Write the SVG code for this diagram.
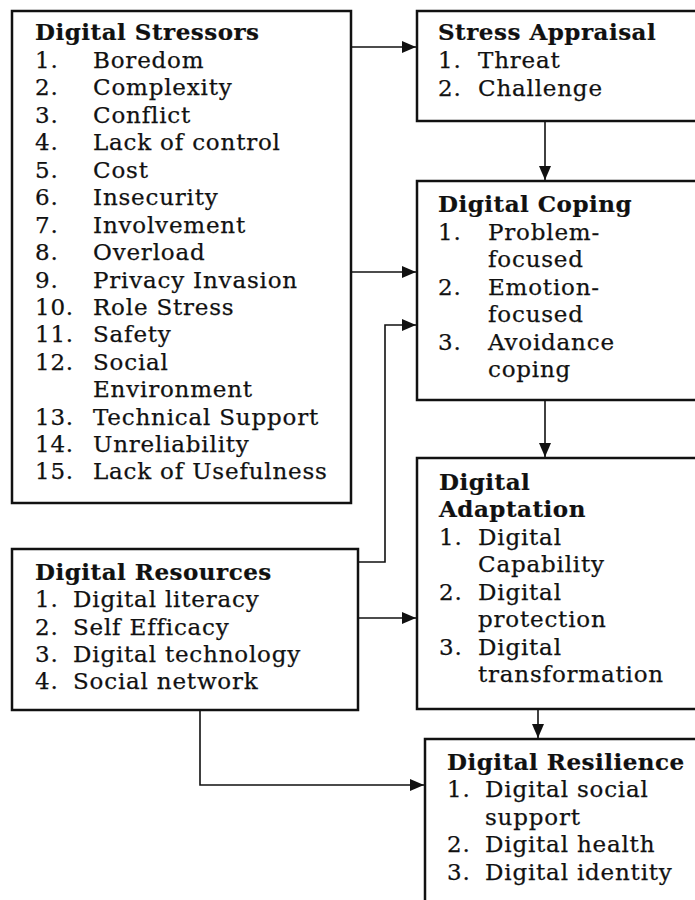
<svg xmlns="http://www.w3.org/2000/svg" width="695" height="900" viewBox="0 0 695 900">
  <style>
    .box { fill: #ffffff; stroke: #111111; stroke-width: 2.5; }
    .link { fill: none; stroke: #111111; stroke-width: 1.6; }
    text { font-family: "DejaVu Serif", "Liberation Serif", serif; font-size: 23px; letter-spacing: 0.8px; fill: #111111; stroke: #111111; stroke-width: 0.25px; }
    .title { font-weight: bold; letter-spacing: 0.5px; stroke-width: 0.2px; }
  </style>
  <defs>
    <marker id="arrow" viewBox="0 0 14 12" refX="14" refY="6" markerWidth="14" markerHeight="12" markerUnits="userSpaceOnUse" orient="auto">
      <path d="M0,0 L14,6 L0,12 Z" fill="#111111"/>
    </marker>
  </defs>

  <rect width="695" height="900" fill="#ffffff"/>

  <!-- connectors -->
  <g id="connectors">
    <path class="link" d="M351,47 H416" marker-end="url(#arrow)"/>
    <path class="link" d="M545,121 V180" marker-end="url(#arrow)"/>
    <path class="link" d="M351,272 H416" marker-end="url(#arrow)"/>
    <path class="link" d="M358,562 H385 V325 H416" marker-end="url(#arrow)"/>
    <path class="link" d="M545,400 V457" marker-end="url(#arrow)"/>
    <path class="link" d="M358,618 H416" marker-end="url(#arrow)"/>
    <path class="link" d="M538,709 V738" marker-end="url(#arrow)"/>
    <path class="link" d="M200,710 V785 H424" marker-end="url(#arrow)"/>
  </g>

  <!-- Digital Stressors -->
  <g id="digital-stressors">
    <rect class="box" x="12" y="11" width="339" height="492"/>
    <text class="title" x="35" y="40">Digital Stressors</text>
    <text x="35" y="68">1.</text><text x="93" y="68">Boredom</text>
    <text x="35" y="95">2.</text><text x="93" y="95">Complexity</text>
    <text x="35" y="123">3.</text><text x="93" y="123">Conflict</text>
    <text x="35" y="150">4.</text><text x="93" y="150">Lack of control</text>
    <text x="35" y="178">5.</text><text x="93" y="178">Cost</text>
    <text x="35" y="205">6.</text><text x="93" y="205">Insecurity</text>
    <text x="35" y="233">7.</text><text x="93" y="233">Involvement</text>
    <text x="35" y="260">8.</text><text x="93" y="260">Overload</text>
    <text x="35" y="288">9.</text><text x="93" y="288">Privacy Invasion</text>
    <text x="35" y="315">10.</text><text x="93" y="315">Role Stress</text>
    <text x="35" y="342">11.</text><text x="93" y="342">Safety</text>
    <text x="35" y="370">12.</text><text x="93" y="370">Social</text>
    <text x="93" y="397">Environment</text>
    <text x="35" y="425">13.</text><text x="93" y="425">Technical Support</text>
    <text x="35" y="452">14.</text><text x="93" y="452">Unreliability</text>
    <text x="35" y="479">15.</text><text x="93" y="479">Lack of Usefulness</text>
  </g>

  <!-- Stress Appraisal -->
  <g id="stress-appraisal">
    <rect class="box" x="417" y="11" width="290" height="110"/>
    <text class="title" x="438" y="40">Stress Appraisal</text>
    <text x="438" y="68">1.</text><text x="478" y="68">Threat</text>
    <text x="438" y="96">2.</text><text x="478" y="96">Challenge</text>
  </g>

  <!-- Digital Coping -->
  <g id="digital-coping">
    <rect class="box" x="417" y="181" width="290" height="219"/>
    <text class="title" x="438" y="212">Digital Coping</text>
    <text x="438" y="240">1.</text><text x="488" y="240">Problem-</text>
    <text x="488" y="267">focused</text>
    <text x="438" y="295">2.</text><text x="488" y="295">Emotion-</text>
    <text x="488" y="322">focused</text>
    <text x="438" y="350">3.</text><text x="488" y="350">Avoidance</text>
    <text x="488" y="377">coping</text>
  </g>

  <!-- Digital Resources -->
  <g id="digital-resources">
    <rect class="box" x="12" y="549" width="346" height="161"/>
    <text class="title" x="35" y="580">Digital Resources</text>
    <text x="35" y="607">1.</text><text x="73" y="607">Digital literacy</text>
    <text x="35" y="635">2.</text><text x="73" y="635">Self Efficacy</text>
    <text x="35" y="662">3.</text><text x="73" y="662">Digital technology</text>
    <text x="35" y="689">4.</text><text x="73" y="689">Social network</text>
  </g>

  <!-- Digital Adaptation -->
  <g id="digital-adaptation">
    <rect class="box" x="417" y="458" width="290" height="251"/>
    <text class="title" x="439" y="490">Digital</text>
    <text class="title" x="439" y="517">Adaptation</text>
    <text x="439" y="545">1.</text><text x="478" y="545">Digital</text>
    <text x="478" y="572">Capability</text>
    <text x="439" y="600">2.</text><text x="478" y="600">Digital</text>
    <text x="478" y="627">protection</text>
    <text x="439" y="655">3.</text><text x="478" y="655">Digital</text>
    <text x="478" y="682">transformation</text>
  </g>

  <!-- Digital Resilience -->
  <g id="digital-resilience">
    <rect class="box" x="425" y="739" width="282" height="180"/>
    <text class="title" x="447" y="770">Digital Resilience</text>
    <text x="447" y="797">1.</text><text x="485" y="797">Digital social</text>
    <text x="485" y="825">support</text>
    <text x="447" y="852">2.</text><text x="485" y="852">Digital health</text>
    <text x="447" y="880">3.</text><text x="485" y="880">Digital identity</text>
  </g>
</svg>
